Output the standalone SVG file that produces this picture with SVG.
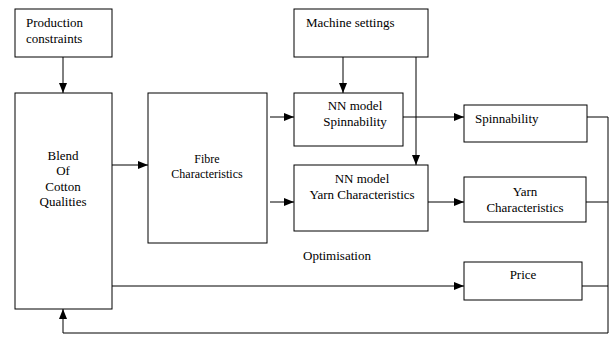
<svg xmlns="http://www.w3.org/2000/svg" width="610" height="337" viewBox="0 0 610 337">
<defs>
<marker id="ah" markerWidth="10" markerHeight="8" refX="10" refY="4" orient="auto" markerUnits="userSpaceOnUse">
<path d="M0,0 L10,4 L0,8 Z" fill="#000"/>
</marker>
<style>
.box{fill:#fff;stroke:#000;stroke-width:1}
.t{font-family:"Liberation Serif","Times New Roman",serif;font-size:13px;fill:#000}
.s{font-size:12px}
.m{text-anchor:middle}
.c{fill:none;stroke:#000;stroke-width:1}
</style>
</defs>
<rect width="610" height="337" fill="#fff"/>
<g id="connectors">
<line class="c" x1="63" y1="57" x2="63" y2="93" marker-end="url(#ah)"/>
<line class="c" x1="112" y1="165" x2="148" y2="165" marker-end="url(#ah)"/>
<line class="c" x1="270" y1="117" x2="294" y2="117" marker-end="url(#ah)"/>
<line class="c" x1="270" y1="202" x2="294" y2="202" marker-end="url(#ah)"/>
<line class="c" x1="343" y1="57" x2="343" y2="93" marker-end="url(#ah)"/>
<line class="c" x1="416" y1="57" x2="416" y2="165" marker-end="url(#ah)"/>
<line class="c" x1="403" y1="117" x2="464" y2="117" marker-end="url(#ah)"/>
<line class="c" x1="428" y1="202" x2="464" y2="202" marker-end="url(#ah)"/>
<line class="c" x1="112" y1="286" x2="464" y2="286" marker-end="url(#ah)"/>
<line class="c" x1="587" y1="117" x2="608" y2="117"/>
<line class="c" x1="586" y1="202" x2="608" y2="202"/>
<line class="c" x1="582" y1="286" x2="608" y2="286"/>
<polyline class="c" points="608,117 608,333 63,333 63,309" marker-end="url(#ah)"/>
</g>
<g id="production">
<rect class="box" x="15" y="9" width="97" height="48"/>
<text class="t" x="26" y="27">Production</text>
<text class="t" x="26" y="43">constraints</text>
</g>
<g id="blend">
<rect class="box" x="15" y="93" width="97" height="216"/>
<text class="t m" x="63" y="160">Blend</text>
<text class="t m" x="63" y="175">Of</text>
<text class="t m" x="63" y="191">Cotton</text>
<text class="t m" x="63" y="206">Qualities</text>
</g>
<g id="fibre">
<rect class="box" x="148" y="93" width="119" height="150"/>
<text class="t s m" x="207" y="163">Fibre</text>
<text class="t s m" x="207" y="178">Characteristics</text>
</g>
<g id="machine">
<rect class="box" x="294" y="9" width="134" height="48"/>
<text class="t" x="306" y="27">Machine settings</text>
</g>
<g id="nn-spin">
<rect class="box" x="294" y="93" width="109" height="53"/>
<text class="t m" x="355" y="110">NN model</text>
<text class="t m" x="355" y="126">Spinnability</text>
</g>
<g id="nn-yarn">
<rect class="box" x="294" y="165" width="134" height="66"/>
<text class="t m" x="362" y="183">NN model</text>
<text class="t m" x="362" y="199">Yarn Characteristics</text>
</g>
<g id="spin">
<rect class="box" x="464" y="105" width="123" height="37"/>
<text class="t" x="475" y="123">Spinnability</text>
</g>
<g id="yarn">
<rect class="box" x="464" y="177" width="122" height="45"/>
<text class="t m" x="525" y="196">Yarn</text>
<text class="t m" x="525" y="212">Characteristics</text>
</g>
<g id="price">
<rect class="box" x="464" y="262" width="118" height="38"/>
<text class="t m" x="523" y="279">Price</text>
</g>
<g id="optimisation">
<text class="t" x="303" y="260">Optimisation</text>
</g>
</svg>
